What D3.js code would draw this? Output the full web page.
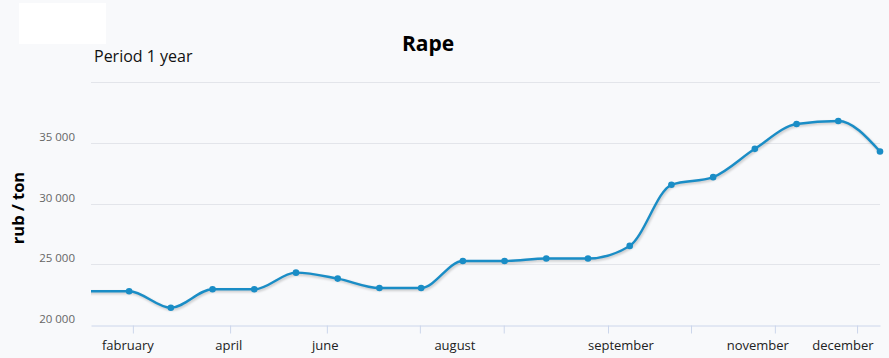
<!DOCTYPE html>
<html>
<head>
<meta charset="utf-8">
<script src="https://cdn.jsdelivr.net/npm/d3@7"></script>
<style>
  body { margin: 0; background: #f8f9fb; }
  svg { display: block; font-family: "Open Sans", sans-serif; }
</style>
</head>
<body>
<script>
// Prices, rub / ton (one point every ~19 days, first one just left of the plot)
const prices = [22780, 22780, 21420, 22940, 22940, 24310, 23820, 23050, 23050, 25270,
  25270, 25470, 25470, 26510, 31540, 32170, 34500, 36540, 36790, 34280];

// Tick marks along the x axis (in point-index units)
const tickIdx = [1.09, 3.42, 5.74, 7.97, 9.98, 12.48, 14.47, 16.48, 18.45];

// Month labels and where they sit (point-index units)
const months = ["fabruary", "april", "june", "august", "september", "november", "december"];
const monthIdx = [0.97, 3.39, 5.70, 8.81, 12.79, 16.07, 18.11];

const yTicks = [20000, 25000, 30000, 35000, 40000];
const yLabels = ["20 000", "25 000", "30 000", "35 000", ""];

const W = 889, H = 358;
const margin = { left: 91, right: 9, top: 82, bottom: 33 };

const svg = d3.select("body").append("svg")
  .attr("width", W)
  .attr("height", H);

svg.append("rect").attr("width", W).attr("height", H).attr("fill", "#f8f9fb");
// blank white box top-left
svg.append("rect").attr("x", 19).attr("y", 3).attr("width", 87).attr("height", 41).attr("fill", "#ffffff");

const x = d3.scaleLinear().domain([0.086, 19]).range([margin.left, W - margin.right]);
const y = d3.scaleLinear().domain([20000, 40000]).range([H - margin.bottom, margin.top]);

// grid
svg.append("g")
  .selectAll("line")
  .data(yTicks.slice(1))
  .join("line")
  .attr("x1", margin.left)
  .attr("x2", W - margin.right)
  .attr("y1", d => Math.round(y(d)) + 0.5)
  .attr("y2", d => Math.round(y(d)) + 0.5)
  .attr("stroke", "#e3e5ea");

// y labels
svg.append("g")
  .selectAll("text")
  .data(yTicks)
  .join("text")
  .attr("x", 75)
  .attr("y", d => y(d) - 2)
  .attr("text-anchor", "end")
  .attr("font-size", 11.5)
  .attr("fill", "#666")
  .text((d, i) => yLabels[i]);

// x axis
const xAxis = svg.append("g")
  .attr("transform", `translate(0,${Math.round(y(20000)) + 0.5})`)
  .call(d3.axisBottom(x).tickValues(tickIdx).tickFormat("").tickSizeInner(8).tickSizeOuter(0));
xAxis.select(".domain").attr("stroke", "#ccd6eb");
xAxis.selectAll(".tick line").attr("stroke", "#ccd6eb");

svg.append("g")
  .selectAll("text")
  .data(months)
  .join("text")
  .attr("x", (d, i) => x(monthIdx[i]))
  .attr("y", 350)
  .attr("text-anchor", "middle")
  .attr("font-size", 13)
  .attr("fill", "#222")
  .text(d => d);

// titles
svg.append("text")
  .attr("x", 428).attr("y", 51)
  .attr("text-anchor", "middle")
  .attr("font-size", 21)
  .attr("font-weight", "bold")
  .attr("fill", "#000")
  .text("Rape");

svg.append("text")
  .attr("x", 94).attr("y", 62)
  .attr("font-size", 16)
  .attr("fill", "#111")
  .text("Period 1 year");

svg.append("text")
  .attr("transform", "translate(24,208) rotate(-90)")
  .attr("text-anchor", "middle")
  .attr("font-size", 16.5)
  .attr("font-weight", "bold")
  .attr("fill", "#000")
  .text("rub / ton");

// series
svg.append("clipPath").attr("id", "plot-clip")
  .append("rect")
  .attr("x", margin.left).attr("y", 0)
  .attr("width", W - margin.right - margin.left + 4).attr("height", H);

const defs = svg.append("defs");
const f = defs.append("filter").attr("id", "shadow").attr("x", "-5%").attr("y", "-20%").attr("width", "110%").attr("height", "140%");
f.append("feGaussianBlur").attr("stdDeviation", 1.2);

const line = d3.line()
  .x((d, i) => x(i))
  .y(d => y(d))
  .curve(d3.curveMonotoneX);

const series = svg.append("g").attr("clip-path", "url(#plot-clip)");

series.append("path")
  .datum(prices)
  .attr("d", line)
  .attr("transform", "translate(1,1.5)")
  .attr("fill", "none")
  .attr("stroke", "#000")
  .attr("stroke-opacity", 0.18)
  .attr("stroke-width", 3)
  .attr("filter", "url(#shadow)");

series.append("path")
  .datum(prices)
  .attr("d", line)
  .attr("fill", "none")
  .attr("stroke", "#1a8dc6")
  .attr("stroke-width", 2.4);

series.selectAll("circle")
  .data(prices)
  .join("circle")
  .filter((d, i) => i > 0)
  .attr("cx", (d, i) => x(i + 1))
  .attr("cy", d => y(d))
  .attr("r", 3.3)
  .attr("fill", "#1a8dc6");
</script>
</body>
</html>
